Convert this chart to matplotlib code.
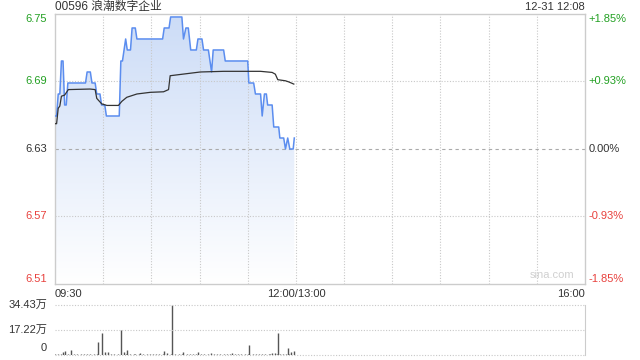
import numpy as np
import matplotlib.pyplot as plt
from matplotlib.colors import LinearSegmentedColormap

plt.rcParams['font.family'] = ['Liberation Sans', 'Noto Sans CJK SC', 'DejaVu Sans']

# intraday price (minutes after 09:30)
price_t = [0, 1, 2, 3, 4, 5, 6, 7, 8, 19, 20, 22, 23, 25, 26, 28, 29, 31, 32,
           40, 41, 42, 44, 45, 47, 48, 50, 51, 67, 68, 71, 72, 79, 80, 81.5,
           83, 84.5, 88, 89, 91.5, 92.5, 95.5, 97.5, 98.5, 105, 106, 120,
           120.7, 123.7, 124.8, 128, 129, 130.4, 131.6, 132.4, 135.2, 136.2,
           139.3, 140, 142.4, 143.5, 144.9, 146.2, 148.3, 149]
price_v = [6.66, 6.66, 6.68, 6.68, 6.71, 6.71, 6.67, 6.67, 6.69, 6.69, 6.70,
           6.70, 6.69, 6.69, 6.68, 6.68, 6.67, 6.67, 6.66, 6.66, 6.71, 6.71,
           6.73, 6.72, 6.72, 6.74, 6.74, 6.73, 6.73, 6.74, 6.74, 6.75, 6.75,
           6.73, 6.74, 6.74, 6.72, 6.72, 6.73, 6.73, 6.72, 6.72, 6.70, 6.72,
           6.72, 6.71, 6.71, 6.69, 6.69, 6.68, 6.68, 6.66, 6.68, 6.68, 6.67,
           6.67, 6.65, 6.65, 6.64, 6.64, 6.63, 6.64, 6.63, 6.63, 6.64]

# average price line
avg_t = [0, 1, 2, 3, 4, 6, 8.3, 21.8, 25, 26, 29.1, 32.3, 39.5, 41.6, 44.7,
         51, 59.3, 67.6, 70.7, 71.7, 82.2, 90.5, 105, 127.9, 135.2, 137.2,
         138.7, 143.5, 145.5, 148.7]
avg_v = [6.653, 6.653, 6.667, 6.669, 6.678, 6.679, 6.684, 6.6845, 6.684,
         6.676, 6.671, 6.6696, 6.6696, 6.6733, 6.677, 6.680, 6.6815, 6.682,
         6.684, 6.6966, 6.6985, 6.700, 6.7006, 6.7006, 6.6996, 6.698, 6.693,
         6.692, 6.691, 6.689]

# volume per minute, in 万
volume = [0.5, 0, 0.4, 0, 0.5, 1.8, 2.8, 0, 0.5, 0,
          3.4, 0, 0.4, 0, 0.5, 0, 0.5, 0, 0.4, 0,
          0.4, 0, 0.5, 0, 0.5, 0, 0.5, 9.0, 0, 15.2,
          0, 2.0, 0, 1.8, 0, 0.9, 0, 0.6, 0, 0.5,
          0, 17.0, 0, 2.3, 0.9, 3.2, 0, 0.5, 0, 0.4,
          0.6, 0, 0.7, 1.2, 0, 0.6, 0, 0.6, 0, 0.7,
          0, 0.5, 0, 0.4, 0, 0.6, 0, 0.9, 2.8, 0,
          1.4, 0, 0.6, 34.43, 0, 0.5, 0, 0.4, 0, 0.5,
          1.8, 0, 0.6, 0, 0.7, 0, 0.6, 0, 0.6, 1.8,
          0, 0.7, 0, 0.6, 0, 0.7, 0, 1.2, 0, 0.6,
          0, 0.5, 0, 0.4, 0, 0.5, 0, 0.4, 0, 0.5,
          1.2, 0, 0.6, 0, 0.6, 0, 0.7, 0, 0.6, 0,
          0.6, 6.7, 0, 0.6, 0, 0.7, 0, 0.6, 0, 0.7,
          0, 0.6, 0, 0.6, 0.8, 1.2, 0, 1.5, 0.7, 15.2,
          0.8, 0, 0.9, 0, 0.6, 4.6, 0.8, 1.8, 0, 2.8]

prev_close = 6.63
span = 0.1227
left_labels = ["6.75", "6.69", "6.63", "6.57", "6.51"]
right_labels = ["+1.85%", "+0.93%", "0.00%", "-0.93%", "-1.85%"]
label_colors = ["#22a022", "#22a022", "#333333", "#e8413d", "#e8413d"]

blue = "#5b8def"
grid_c = "#c8c8c8"

fig = plt.figure(figsize=(6.4, 3.6), dpi=100)
ax = fig.add_axes([55 / 640, 1 - 284 / 360, 530 / 640, 270 / 360])
axv = fig.add_axes([55 / 640, 1 - 355 / 360, 530 / 640, 50 / 360])

# price panel
ax.set_xlim(0, 330)
ax.set_ylim(prev_close - span, prev_close + span)
poly = ax.fill_between(price_t, price_v, prev_close - span, color="none", lw=0)
cmap = LinearSegmentedColormap.from_list("g", ["#ffffff", "#ccdcf7"])
grad = np.linspace(0, 1, 256).reshape(-1, 1)
im = ax.imshow(grad, cmap=cmap, aspect="auto", origin="lower",
               extent=[0, 330, prev_close - span, prev_close + span], zorder=1)
im.set_clip_path(poly.get_paths()[0], transform=ax.transData)
ax.plot(price_t, price_v, color=blue, lw=1.1, zorder=3)
ax.plot(avg_t, avg_v, color="#333333", lw=0.9, zorder=4)

levels = [prev_close + span / 2 * k for k in (2, 1, 0, -1, -2)]
for lv in levels[1:4]:
    ls = (0, (3, 3)) if lv == prev_close else (0, (1, 1.5))
    c = "#aaaaaa" if lv == prev_close else grid_c
    ax.axhline(lv, color=c, lw=0.8, ls=ls, zorder=2)
for m in range(30, 330, 30):
    ax.axvline(m, color=grid_c, lw=0.8, ls=(0, (1, 1.5)), zorder=2)

ax.set_xticks([])
ax.set_yticks([])
for s in ax.spines.values():
    s.set_color("#cccccc")
    s.set_linewidth(1)

for i, (lv, ll, rl, c) in enumerate(zip(levels, left_labels, right_labels, label_colors)):
    va = "top" if i == 0 else ("bottom" if i == 4 else "center")
    ax.text(-5, lv, ll, color=c, fontsize=8, ha="right", va=va)
    ax.text(332, lv, rl, color=c, fontsize=8, ha="left", va=va)

ax.text(0, -0.018, "09:30", transform=ax.transAxes, fontsize=8, color="#333333",
        ha="left", va="top")
ax.text(150, -0.018, "12:00/13:00", transform=ax.get_xaxis_transform(),
        fontsize=8, color="#333333", ha="center", va="top")
ax.text(1, -0.018, "16:00", transform=ax.transAxes, fontsize=8, color="#333333",
        ha="right", va="top")
ax.text(0, 1 + 7 / 270, "00596 浪潮数字企业", transform=ax.transAxes, fontsize=8.5,
        color="#333333", ha="left", va="center")
ax.text(1, 1 + 7 / 270, "12-31 12:08", transform=ax.transAxes, fontsize=8,
        color="#333333", ha="right", va="center")
ax.text(0.98, 0.015, "sina.com", transform=ax.transAxes, fontsize=8,
        color="#d0d0d0", ha="right", va="bottom")

# volume panel
vmax = 34.43
axv.set_xlim(0, 330)
axv.set_ylim(0, vmax)
axv.vlines(np.arange(len(volume)), 0, volume, color="#555555", lw=1)
for lv in (vmax, vmax / 2, 0):
    axv.axhline(lv, color=grid_c, lw=0.8, ls=(0, (1, 1.5)), clip_on=False)
axv.set_xticks([])
axv.set_yticks([])
for k in ("left", "top", "bottom"):
    axv.spines[k].set_visible(False)
axv.spines["right"].set_color("#cccccc")
axv.text(-5, vmax, "34.43万", fontsize=8, color="#333333", ha="right", va="center")
axv.text(-5, vmax / 2, "17.22万", fontsize=8, color="#333333", ha="right", va="center")
axv.text(-5, 1.5, "0", fontsize=8, color="#333333", ha="right", va="bottom")

fig.savefig("out.png", dpi=100)
